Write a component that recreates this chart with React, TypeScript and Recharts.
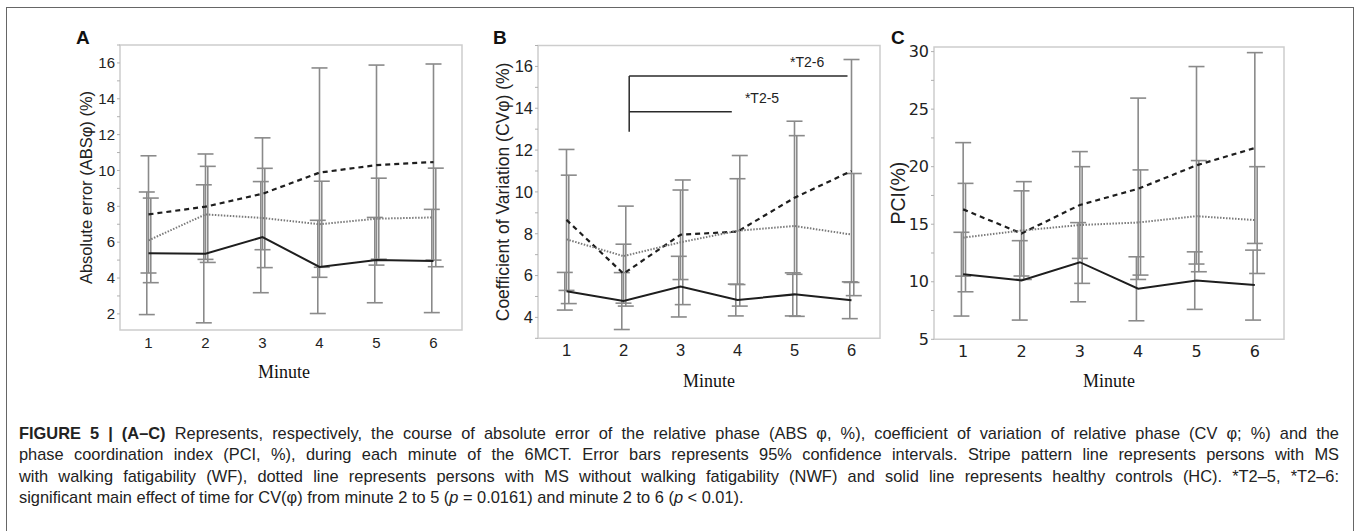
import React from 'react';
import {
  ComposedChart,
  Line,
  XAxis,
  YAxis,
  ErrorBar,
  ReferenceLine,
  ReferenceArea,
  ReferenceDot,
  Label,
} from 'recharts';

// ---------- data ----------
const minutes = [1, 2, 3, 4, 5, 6];
const xTicks = [1, 2, 3, 4, 5, 6];

// Panel A: absolute error of relative phase (ABSφ, %)
const absWF = [7.55, 7.98, 8.7, 9.88, 10.3, 10.47];
const absWFci = [3.27, 2.94, 3.12, 5.84, 5.58, 5.47];
const absNWF = [6.1, 7.55, 7.35, 7.0, 7.31, 7.38];
const absNWFci = [2.36, 2.68, 2.77, 2.4, 2.26, 2.75];
const absHC = [5.38, 5.35, 6.28, 4.62, 5.0, 4.95];
const absHCci = [3.42, 3.85, 3.1, 2.6, 2.38, 2.88];

// Panel B: coefficient of variation (CVφ, %)
const cvWF = [8.66, 6.09, 7.95, 8.1, 9.72, 11.0];
const cvWFci = [3.37, 1.41, 2.14, 2.53, 3.66, 5.33];
const cvNWF = [7.73, 6.93, 7.59, 8.14, 8.37, 7.96];
const cvNWFci = [3.07, 2.39, 2.98, 3.6, 4.32, 2.92];
const cvHC = [5.25, 4.78, 5.47, 4.83, 5.1, 4.82];
const cvHCci = [0.9, 1.36, 1.45, 0.76, 1.03, 0.88];

// Panel C: phase coordination index (PCI, %)
const pciWF = [16.29, 14.2, 16.67, 18.08, 20.12, 21.62];
const pciWFci = [5.8, 3.7, 4.64, 7.88, 8.58, 8.29];
const pciNWF = [13.84, 14.45, 14.93, 15.15, 15.7, 15.36];
const pciNWFci = [4.71, 4.25, 5.07, 4.57, 4.83, 4.64];
const pciHC = [10.66, 10.12, 11.7, 9.39, 10.1, 9.71];
const pciHCci = [3.64, 3.45, 3.44, 2.78, 2.5, 3.04];

// Y axis ticks
const yTicksA = [2, 3, 4, 5, 6, 7, 8, 9, 10, 11, 12, 13, 14, 15, 16, 17];
const yTicksB = [3, 4, 5, 6, 7, 8, 9, 10, 11, 12, 13, 14, 15, 16, 17];
const yTicksC = [5, 7.5, 10, 12.5, 15, 17.5, 20, 22.5, 25, 27.5, 30];

// Significance annotation in panel B
const bracketsB = [
  { x1: 2.1, y1: 12.88, x2: 2.1, y2: 15.54 },
  { x1: 2.1, y1: 15.54, x2: 5.93, y2: 15.54 },
  { x1: 2.1, y1: 13.83, x2: 3.9, y2: 13.83 },
];
const sigLabelsB = [
  { x: 4.92, y: 16.21, text: '*T2-6' },
  { x: 4.13, y: 14.49, text: '*T2-5' },
];

// ---------- styles ----------
const DODGE = { wf: 0, nwf: 0.04, hc: -0.03 };
const LINE_STYLE = {
  wf: { stroke: '#1e1e1e', strokeWidth: 2.2, strokeDasharray: '5 4' },
  nwf: { stroke: '#7a7a7a', strokeWidth: 2, strokeDasharray: '1.5 1.5' },
  hc: { stroke: '#1e1e1e', strokeWidth: 2, strokeDasharray: undefined as string | undefined },
};

type Kind = 'wf' | 'nwf' | 'hc';
type Group = { kind: Kind; mean: number[]; ci: number[] };

const meanRows = (m: number[]) => minutes.map((x, i) => ({ x, y: m[i] }));
const ciRows = (m: number[], ci: number[], d: number) =>
  minutes.map((x, i) => ({ x: x + d, y: m[i], e: ci[i] }));

type PanelProps = {
  left: number;
  width: number;
  height: number;
  margin: { top: number; right: number; bottom: number; left: number };
  yWidth: number;
  xHeight: number;
  domain: [number, number];
  yTicks: number[];
  labelStep: number;
  yTitle: string;
  yTitleSize: number;
  tickFont: string;
  tickSize: number;
  minuteOffset: number;
  minuteDx: number;
  xTickMargin: number;
  groups: Group[];
  children?: React.ReactNode;
};

function Panel(p: PanelProps) {
  const tickStyle = { fontFamily: p.tickFont, fontSize: p.tickSize, fill: '#222' };
  return (
    <div style={{ position: 'absolute', left: p.left, top: 0 }}>
      <ComposedChart width={p.width} height={p.height} margin={p.margin}>
        <XAxis
          type="number"
          dataKey="x"
          domain={[0.5, 6.5]}
          ticks={xTicks}
          interval={0}
          allowDataOverflow
          axisLine={false}
          tickLine={false}
          tickSize={0}
          tickMargin={p.xTickMargin}
          height={p.xHeight}
          tick={tickStyle}
        >
          <Label
            value="Minute"
            position="insideTop"
            offset={p.minuteOffset}
            dx={p.minuteDx}
            style={{ fontFamily: '"Liberation Serif", "Times New Roman", serif', fontSize: 18, fill: '#111' }}
          />
        </XAxis>
        <YAxis
          type="number"
          domain={p.domain}
          ticks={p.yTicks}
          interval={0}
          allowDataOverflow
          width={p.yWidth}
          axisLine={false}
          tickSize={3}
          tickMargin={2}
          tickLine={{ stroke: '#b0b0b0' }}
          tickFormatter={(v: number) => (v % p.labelStep === 0 ? String(v) : '')}
          tick={tickStyle}
        >
          <Label
            value={p.yTitle}
            angle={-90}
            position="center"
            style={{ fontFamily: '"Liberation Sans", Arial, sans-serif', fontSize: p.yTitleSize, fill: '#222', textAnchor: 'middle' }}
          />
        </YAxis>
        <ReferenceArea
          x1={0.5}
          x2={6.5}
          y1={p.domain[0]}
          y2={p.domain[1]}
          fill="none"
          fillOpacity={0}
          stroke="#cdcdcd"
          strokeWidth={1.5}
          ifOverflow="visible"
        />
        {p.groups.map((g) => (
          <Line
            key={'ci-' + g.kind}
            data={ciRows(g.mean, g.ci, DODGE[g.kind])}
            dataKey="y"
            stroke="none"
            dot={false}
            activeDot={false}
            legendType="none"
            isAnimationActive={false}
          >
            <ErrorBar dataKey="e" direction="y" width={8} stroke="#8a8a8a" strokeWidth={1.6} />
          </Line>
        ))}
        {p.groups.map((g) => (
          <Line
            key={'m-' + g.kind}
            data={meanRows(g.mean)}
            dataKey="y"
            type="linear"
            stroke={LINE_STYLE[g.kind].stroke}
            strokeWidth={LINE_STYLE[g.kind].strokeWidth}
            strokeDasharray={LINE_STYLE[g.kind].strokeDasharray}
            dot={false}
            activeDot={false}
            legendType="none"
            isAnimationActive={false}
          />
        ))}
        {p.children}
      </ComposedChart>
    </div>
  );
}

const letterStyle: React.CSSProperties = {
  position: 'absolute',
  top: 28,
  fontFamily: '"Liberation Sans", Arial, sans-serif',
  fontWeight: 'bold',
  fontSize: 19,
  lineHeight: 1,
  color: '#111',
};

const lineBase: React.CSSProperties = {
  textAlign: 'justify',
  textAlignLast: 'justify',
  whiteSpace: 'nowrap',
};

export default function App() {
  return (
    <div style={{ position: 'absolute', left: 0, top: 0, width: 1358, height: 531, background: '#fff', overflow: 'hidden' }}>
      <div
        style={{
          position: 'absolute',
          left: 6,
          top: 7,
          width: 1348,
          height: 540,
          borderTop: '1.5px solid #666',
          borderLeft: '1.5px solid #666',
          borderRight: '1.5px solid #666',
          boxSizing: 'border-box',
        }}
      />

      <Panel
        left={0}
        width={470}
        height={400}
        margin={{ top: 45, right: 8, bottom: 0, left: 52 }}
        yWidth={68}
        xHeight={70}
        domain={[1.1, 17.0]}
        yTicks={yTicksA}
        labelStep={2}
        yTitle="Absolute error (ABSφ) (%)"
        yTitleSize={16.5}
        tickFont='"Liberation Sans", Arial, sans-serif'
        tickSize={15}
        minuteOffset={35.5}
        minuteDx={-7}
        xTickMargin={7}
        groups={[
          { kind: 'wf', mean: absWF, ci: absWFci },
          { kind: 'nwf', mean: absNWF, ci: absNWFci },
          { kind: 'hc', mean: absHC, ci: absHCci },
        ]}
      />

      <Panel
        left={460}
        width={428}
        height={410}
        margin={{ top: 45.5, right: 8, bottom: 0, left: 8 }}
        yWidth={70}
        xHeight={71.7}
        domain={[3.0, 17.0]}
        yTicks={yTicksB}
        labelStep={2}
        yTitle="Coefficient of Variation (CVφ) (%)"
        yTitleSize={17.5}
        tickFont='"Liberation Sans", Arial, sans-serif'
        tickSize={16.5}
        minuteOffset={36}
        minuteDx={0}
        xTickMargin={6}
        groups={[
          { kind: 'wf', mean: cvWF, ci: cvWFci },
          { kind: 'nwf', mean: cvNWF, ci: cvNWFci },
          { kind: 'hc', mean: cvHC, ci: cvHCci },
        ]}
      >
        {bracketsB.map((b, i) => (
          <ReferenceLine
            key={'br' + i}
            segment={[
              { x: b.x1, y: b.y1 },
              { x: b.x2, y: b.y2 },
            ]}
            stroke="#2a2a2a"
            strokeWidth={1.5}
            ifOverflow="visible"
          />
        ))}
        {sigLabelsB.map((s, i) => (
          <ReferenceDot
            key={'sl' + i}
            x={s.x}
            y={s.y}
            r={0}
            fill="none"
            stroke="none"
            ifOverflow="visible"
            label={{
              value: s.text,
              position: 'right',
              offset: 0,
              style: { fontFamily: '"Liberation Sans", Arial, sans-serif', fontSize: 14, fill: '#222' },
            }}
          />
        ))}
      </Panel>

      <Panel
        left={860}
        width={432}
        height={410}
        margin={{ top: 47, right: 8, bottom: 0, left: 2 }}
        yWidth={72}
        xHeight={70.7}
        domain={[5, 30.4]}
        yTicks={yTicksC}
        labelStep={5}
        yTitle="PCI(%)"
        yTitleSize={19.5}
        tickFont='"DejaVu Sans", sans-serif'
        tickSize={16}
        minuteOffset={35}
        minuteDx={0}
        xTickMargin={6}
        groups={[
          { kind: 'wf', mean: pciWF, ci: pciWFci },
          { kind: 'nwf', mean: pciNWF, ci: pciNWFci },
          { kind: 'hc', mean: pciHC, ci: pciHCci },
        ]}
      />

      <div style={{ ...letterStyle, left: 76 }}>A</div>
      <div style={{ ...letterStyle, left: 493 }}>B</div>
      <div style={{ ...letterStyle, left: 891 }}>C</div>

      <div
        style={{
          position: 'absolute',
          left: 19,
          top: 423,
          width: 1320,
          fontFamily: '"Liberation Sans", Arial, sans-serif',
          fontSize: 16.4,
          lineHeight: '21.3px',
          color: '#222',
        }}
      >
        <div style={lineBase}>
          <b>FIGURE 5 | (A–C)</b> Represents, respectively, the course of absolute error of the relative phase (ABS φ, %), coefficient of variation of relative phase (CV φ; %) and the
        </div>
        <div style={lineBase}>
          phase coordination index (PCI, %), during each minute of the 6MCT. Error bars represents 95% confidence intervals. Stripe pattern line represents persons with MS
        </div>
        <div style={lineBase}>
          with walking fatigability (WF), dotted line represents persons with MS without walking fatigability (NWF) and solid line represents healthy controls (HC). *T2–5, *T2–6:
        </div>
        <div style={{ whiteSpace: 'nowrap' }}>
          significant main effect of time for CV(φ) from minute 2 to 5 (<i>p</i> = 0.0161) and minute 2 to 6 (<i>p</i> &lt; 0.01).
        </div>
      </div>
    </div>
  );
}
